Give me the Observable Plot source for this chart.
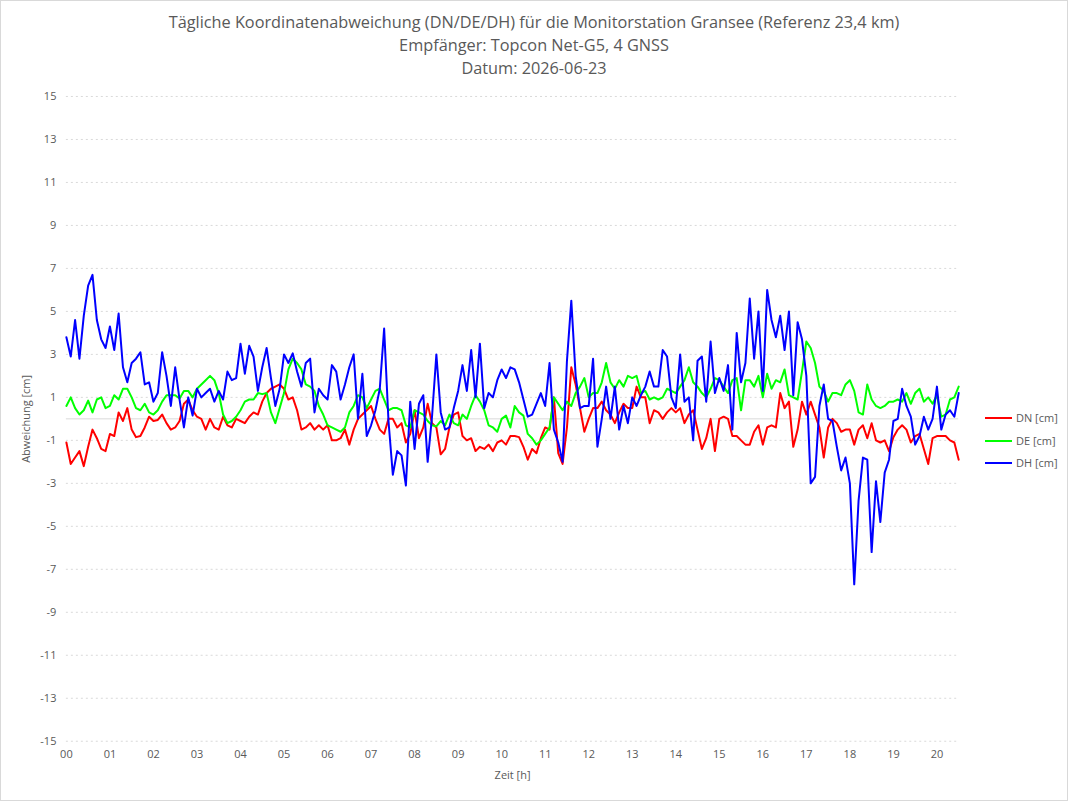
<!DOCTYPE html>
<html>
<head>
<meta charset="utf-8">
<script src="https://cdn.jsdelivr.net/npm/d3@7"></script>
<script src="https://cdn.jsdelivr.net/npm/@observablehq/plot@0.6"></script>
<style>
  html, body { margin: 0; padding: 0; background: #fff; }
  #frame { position: relative; width: 1066px; height: 799px; border: 1px solid #d9d9d9; overflow: hidden;
           font-family: "Open Sans", sans-serif; color: #595959; background: #fff; }
  #title { position: absolute; top: 10px; left: 0; width: 100%; text-align: center; font-size: 16.3px; line-height: 23px; }
  #chart { position: absolute; top: 80px; left: 0; }
  #legend { position: absolute; left: 984px; top: 406px; font-size: 11px; line-height: 22.5px; }
  #legend .row { display: flex; align-items: center; }
  #legend .sw { display: inline-block; width: 27px; height: 2px; margin-right: 4px; }
</style>
</head>
<body>
<div id="frame">
  <div id="title">
    <div>Tägliche Koordinatenabweichung (DN/DE/DH) für die Monitorstation Gransee (Referenz 23,4 km)</div>
    <div>Empfänger: Topcon Net-G5, 4 GNSS</div>
    <div>Datum: 2026-06-23</div>
  </div>
  <div id="chart"></div>
  <div id="legend"></div>
</div>
<script>
// Sampling grid: one value every 0.1 h from 0.0 h to 20.5 h (206 samples)
const hours = d3.range(206).map(i => i / 10);

const hourTicks = [0, 1, 2, 3, 4, 5, 6, 7, 8, 9, 10, 11, 12, 13, 14, 15, 16, 17, 18, 19, 20];
const hourTickLabels = ["00","01","02","03","04","05","06","07","08","09","10","11","12","13","14","15","16","17","18","19","20"];
const yTicks = [-15, -13, -11, -9, -7, -5, -3, -1, 1, 3, 5, 7, 9, 11, 13, 15];
const yTickLabels = ["-15","-13","-11","-9","-7","-5","-3","-1","1","3","5","7","9","11","13","15"];

const seriesNames = ["DN [cm]", "DE [cm]", "DH [cm]"];
const seriesColors = ["#ff0000", "#00ff00", "#0000ff"];

const dn = [
  -1.1,-2.1,-1.8,-1.5,-2.2,-1.3,-0.5,-0.9,-1.4,-1.5,
  -0.7,-0.8,0.3,-0.1,0.5,-0.5,-0.85,-0.8,-0.4,0.1,
  -0.1,-0.05,0.2,-0.2,-0.5,-0.4,-0.1,0.7,0.9,0.4,
  0.1,0.0,-0.5,0.0,-0.4,-0.5,0.1,-0.3,-0.4,0.0,
  -0.1,-0.2,0.1,0.3,0.2,0.8,1.2,1.4,1.5,1.6,
  1.4,0.9,1.0,0.4,-0.5,-0.4,-0.2,-0.5,-0.3,-0.5,
  -0.3,-1.0,-1.0,-0.9,-0.5,-1.2,-0.5,0.0,0.2,0.4,
  0.6,0.0,-0.5,-0.7,0.0,0.0,-0.4,-0.2,-1.1,-0.7,
  0.4,-0.9,-0.4,0.7,-0.2,-0.4,-1.65,-1.4,-0.4,0.2,
  0.3,-0.8,-1.0,-0.9,-1.5,-1.3,-1.4,-1.2,-1.5,-1.1,
  -1.0,-1.2,-0.8,-0.8,-0.85,-1.3,-1.9,-1.4,-1.6,-0.9,
  -0.4,-0.5,1.0,-1.6,-2.1,-0.4,2.4,1.6,0.5,-0.6,
  0.0,0.5,0.5,0.8,0.4,0.2,-0.2,0.3,0.7,0.5,
  0.5,1.5,1.0,1.0,-0.2,0.4,0.3,0.0,0.3,0.5,
  0.3,0.5,-0.2,0.2,0.4,-0.5,-1.4,-0.9,0.0,-1.5,
  0.0,0.1,0.0,-0.8,-0.8,-1.0,-1.2,-1.2,-0.6,-0.3,
  -1.2,-0.4,-0.3,-0.4,1.2,0.5,0.8,-1.3,-0.5,0.8,
  0.2,0.8,0.2,-0.4,-1.8,-0.4,0.0,-0.2,-0.6,-0.5,
  -0.5,-1.2,-0.5,-0.3,-0.9,-0.2,-1.0,-1.1,-1.0,-1.5,
  -0.85,-0.5,-0.3,-0.5,-1.1,-0.8,-0.7,-1.4,-2.1,-0.9,
  -0.8,-0.8,-0.8,-1.0,-1.1,-1.9
];

const de = [
  0.6,1.0,0.5,0.2,0.4,0.85,0.3,0.9,1.0,0.5,
  0.6,1.1,0.9,1.4,1.4,1.0,0.5,0.4,0.7,0.3,
  0.2,0.4,0.8,1.1,1.1,1.1,0.95,1.3,1.3,1.0,
  1.4,1.6,1.8,2.0,1.8,1.2,0.2,-0.2,-0.1,0.1,
  0.4,0.8,0.9,0.9,1.2,1.15,1.2,0.3,-0.2,0.5,
  1.2,2.3,2.8,2.6,2.3,1.6,1.5,1.3,0.6,0.2,
  -0.3,-0.4,-0.5,-0.6,-0.4,0.3,0.6,1.1,1.0,0.5,
  0.9,1.3,1.4,0.9,0.4,0.5,0.5,0.4,-0.3,-0.4,
  0.4,0.3,0.2,-0.1,-0.3,-0.35,-0.1,-0.3,0.2,-0.2,
  -0.3,0.2,0.0,0.6,1.1,0.8,0.4,-0.3,-0.4,-0.6,
  0.0,0.15,-0.4,0.6,0.3,0.15,-0.7,-0.9,-1.2,-1.0,
  -0.7,-0.4,1.0,0.7,0.4,0.8,0.6,1.2,1.5,1.9,
  1.0,1.2,1.2,1.7,2.6,1.7,1.4,1.8,1.5,2.0,
  1.9,2.0,1.2,1.3,0.9,1.0,0.9,1.0,1.4,1.3,
  1.2,1.5,1.8,2.4,1.7,1.5,1.2,1.0,1.4,1.9,
  1.8,1.5,1.2,1.8,1.9,0.4,1.8,1.8,1.5,2.0,
  1.0,2.1,1.4,1.8,1.7,2.3,1.1,1.0,0.9,2.2,
  3.6,3.3,2.6,1.5,1.3,0.8,1.2,1.2,1.1,1.6,
  1.8,1.3,0.3,0.2,1.6,0.9,0.6,0.5,0.6,0.8,
  0.8,0.9,0.8,1.2,0.7,1.2,1.4,0.8,1.0,0.7,
  1.1,0.1,0.2,0.9,1.0,1.5
];

const dh = [
  3.8,2.9,4.6,2.8,4.8,6.2,6.7,4.6,3.7,3.3,
  4.3,3.2,4.9,2.4,1.7,2.6,2.8,3.1,1.6,1.7,
  0.8,1.2,3.1,2.0,0.6,2.4,0.9,-0.4,1.0,0.15,
  1.4,1.0,1.2,1.4,0.8,1.3,0.9,2.2,1.8,1.9,
  3.5,2.1,3.4,2.9,1.3,2.4,3.3,1.9,0.6,1.4,
  3.0,2.6,3.05,2.2,1.5,2.6,2.8,0.3,1.4,1.1,
  0.9,2.5,2.2,0.9,1.6,2.4,3.0,0.0,2.1,-0.8,
  -0.3,0.4,1.4,4.2,-0.1,-2.6,-1.5,-1.7,-3.1,0.8,
  -1.4,0.7,1.1,-2.0,0.1,3.0,0.3,-0.5,-0.4,0.5,
  1.3,2.5,1.3,3.2,1.0,3.5,0.5,1.2,1.0,1.8,
  2.3,1.9,2.4,2.3,1.7,0.9,0.1,0.2,0.7,1.2,
  0.6,2.6,-0.5,-1.1,-2.0,2.7,5.5,2.0,0.5,0.6,
  0.6,2.8,-1.3,0.0,1.5,0.0,1.5,-0.5,0.6,-0.2,
  1.0,0.6,1.1,1.5,2.2,1.5,1.5,3.2,2.9,1.0,
  0.5,3.0,0.8,1.0,-1.0,2.7,2.9,0.8,3.6,1.2,
  1.9,1.3,2.5,-0.5,4.0,1.7,2.6,5.6,2.8,5.0,
  1.3,6.0,4.6,3.8,4.8,3.2,5.0,1.1,4.5,3.7,
  2.0,-3.0,-2.7,0.6,1.6,0.0,-0.1,-1.3,-2.4,-1.8,
  -3.0,-7.7,-3.8,-1.8,-1.9,-6.2,-2.9,-4.8,-2.5,-1.9,
  -0.1,0.0,1.4,0.6,0.1,-1.2,-0.8,0.1,-0.5,0.0,
  1.5,-0.5,0.2,0.4,0.1,1.2
];

const seriesValues = [dn, de, dh];
const rows = seriesValues.flatMap((vals, k) =>
  vals.map((v, i) => ({t: hours[i], v, s: seriesNames[k]})));

const chart = Plot.plot({
  width: 1068,
  height: 710,
  marginLeft: 65,
  marginRight: 109,
  marginTop: 15,
  marginBottom: 49,
  style: {fontFamily: '"Open Sans", sans-serif', fontSize: "11px", color: "#595959", background: "transparent"},
  x: {domain: [0, 20.5]},
  y: {domain: [-15, 15]},
  color: {domain: seriesNames, range: seriesColors},
  marks: [
    Plot.gridY(yTicks, {stroke: "#d9d9d9", strokeOpacity: 1, strokeDasharray: "2,3"}),
    Plot.ruleY([0], {stroke: "#d9d9d9", strokeOpacity: 1}),
    Plot.axisY(yTicks, {tickSize: 0, tickPadding: 10, tickFormat: (d, i) => yTickLabels[i], label: "Abweichung [cm]", labelAnchor: "center", labelArrow: "none", labelOffset: 44, fill: "#595959"}),
    Plot.axisX(hourTicks, {tickSize: 0, tickPadding: 9, tickFormat: (d, i) => hourTickLabels[i], label: "Zeit [h]", labelAnchor: "center", labelArrow: "none", labelOffset: 38, fill: "#595959"}),
    Plot.lineY(rows, {x: "t", y: "v", z: "s", stroke: "s", strokeWidth: 2, curve: "linear"})
  ]
});
document.getElementById("chart").appendChild(chart);

const legend = document.getElementById("legend");
seriesNames.forEach((name, k) => {
  const row = document.createElement("div");
  row.className = "row";
  const sw = document.createElement("span");
  sw.className = "sw";
  sw.style.background = seriesColors[k];
  row.appendChild(sw);
  row.appendChild(document.createTextNode(name));
  legend.appendChild(row);
});
</script>
</body>
</html>
